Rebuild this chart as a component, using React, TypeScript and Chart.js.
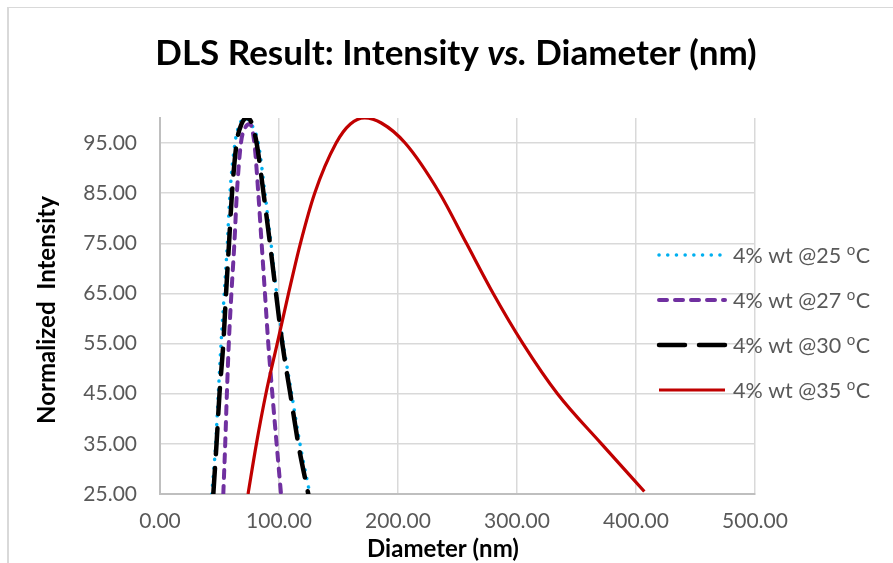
import React, { useEffect, useRef } from 'react';
import { Chart, registerables } from 'chart.js';
Chart.register(...registerables);

const SERIES_LABELS = ['4% wt @25 °C', '4% wt @27 °C', '4% wt @30 °C', '4% wt @35 °C'];
const SERIES_COLORS = ['#00b0f0', '#7030a0', '#000000', '#c00000'];

const D25_X = [43.5, 46.8, 49.0, 51.3, 54.0, 56.6, 58.8, 63.0, 67.0, 71.5, 76.0, 82.6, 88.2, 93.3, 98.0, 103.6, 110.6, 117.6, 126.0];
const D25_Y = [25.0, 35.0, 45.0, 55.0, 65.0, 75.0, 85.0, 95.0, 98.8, 100.0, 99.0, 95.0, 85.0, 75.0, 65.0, 55.0, 45.0, 35.0, 25.0];

const D27_X = [53.2, 54.8, 56.2, 57.8, 60.0, 62.5, 64.6, 68.0, 71.5, 75.5, 79.3, 82.6, 85.4, 88.2, 91.0, 94.4, 98.0, 101.7];
const D27_Y = [25.0, 35.0, 45.0, 55.0, 65.0, 75.0, 85.0, 95.0, 98.0, 98.8, 95.0, 85.0, 75.0, 65.0, 55.0, 45.0, 35.0, 25.0];

const D30_X = [44.8, 47.5, 50.0, 53.2, 55.5, 58.0, 60.5, 64.4, 68.5, 73.0, 77.0, 81.2, 87.0, 92.4, 97.5, 102.8, 109.5, 116.2, 124.6];
const D30_Y = [25.0, 35.0, 45.0, 55.0, 65.0, 75.0, 85.0, 95.0, 98.8, 100.0, 99.0, 95.0, 85.0, 75.0, 65.0, 55.0, 45.0, 35.0, 25.0];

const D35_X = [74.0, 81.0, 89.0, 98.5, 108.0, 118.0, 130.0, 148.0, 160.0, 172.0, 186.0, 206.0, 235.0, 257.5, 280.0, 305.0, 334.0, 371.0, 407.0];
const D35_Y = [25.0, 35.0, 45.0, 55.0, 65.0, 75.0, 85.0, 95.0, 98.8, 100.0, 99.0, 95.0, 85.0, 75.0, 65.0, 55.0, 45.0, 35.0, 25.5];

const X_TICKS = [0, 100, 200, 300, 400, 500];
const Y_TICKS = [25, 35, 45, 55, 65, 75, 85, 95];

const TITLE_PARTS = [
  { text: 'DLS Result: Intensity ', italic: false },
  { text: 'vs.', italic: true },
  { text: ' Diameter (nm)', italic: false },
];
const X_TITLE = 'Diameter (nm)';
const Y_TITLE = 'Normalized  Intensity';

const FONT = 'Lato, "Noto Sans", sans-serif';

const pts = (xs: number[], ys: number[]) => xs.map((x, i) => ({ x, y: ys[i] }));

const decorPlugin = {
  id: 'decor',
  beforeDraw(chart: any) {
    const ctx = chart.ctx;
    ctx.save();
    ctx.fillStyle = '#ffffff';
    ctx.fillRect(0, 0, chart.width, chart.height);
    ctx.fillStyle = '#d9d9d9';
    ctx.fillRect(7, 7, chart.width - 7, 1);
    ctx.fillRect(7, 7, 2, chart.height - 7);
    ctx.restore();
  },
  afterDraw(chart: any) {
    const ctx = chart.ctx;
    ctx.save();
    // main title
    const tSize = 35;
    ctx.fillStyle = '#000000';
    ctx.textBaseline = 'alphabetic';
    ctx.textAlign = 'left';
    const fonts = TITLE_PARTS.map((p) => `${p.italic ? 'italic ' : ''}bold ${tSize}px ${FONT}`);
    let total = 0;
    const widths = TITLE_PARTS.map((p, i) => {
      ctx.font = fonts[i];
      const w = ctx.measureText(p.text).width;
      total += w;
      return w;
    });
    let x = 456 - total / 2;
    TITLE_PARTS.forEach((p, i) => {
      ctx.font = fonts[i];
      ctx.fillText(p.text, x, 65);
      x += widths[i];
    });

    // axis titles
    ctx.font = `bold 24px ${FONT}`;
    ctx.textAlign = 'center';
    ctx.textBaseline = 'middle';
    ctx.fillText(X_TITLE, 443, 549);
    ctx.save();
    ctx.translate(47, 310);
    ctx.rotate(-Math.PI / 2);
    ctx.fillText(Y_TITLE, 0, 0);
    ctx.restore();

    // legend
    chart.data.datasets.forEach((ds: any, i: number) => {
      const y = 255 + i * 45;
      ctx.beginPath();
      ctx.strokeStyle = ds.borderColor;
      ctx.lineWidth = ds.borderWidth;
      ctx.lineCap = ds.borderCapStyle || 'butt';
      ctx.setLineDash(ds.borderDash || []);
      ctx.moveTo(659, y);
      ctx.lineTo(725, y);
      ctx.stroke();
      ctx.setLineDash([]);
      const label: string = ds.label;
      const k = label.indexOf('°');
      const pre = k >= 0 ? label.slice(0, k) : label;
      const post = k >= 0 ? label.slice(k + 1) : '';
      ctx.fillStyle = '#595959';
      ctx.textAlign = 'left';
      ctx.textBaseline = 'middle';
      ctx.font = `21.5px ${FONT}`;
      let tx = 733;
      ctx.fillText(pre, tx, y + 1);
      tx += ctx.measureText(pre).width;
      if (k >= 0) {
        ctx.font = `15px ${FONT}`;
        ctx.fillText('o', tx, y - 5);
        tx += ctx.measureText('o').width + 0.5;
        ctx.font = `21.5px ${FONT}`;
        ctx.fillText(post, tx, y + 1);
      }
    });
    ctx.restore();
  },
};

export default function App() {
  const ref = useRef<HTMLCanvasElement | null>(null);
  useEffect(() => {
    if (!ref.current) return;
    const lw = [3.5, 4, 4.5, 3.2];
    const dashes = [[0.1, 8.6], [8, 8], [26, 14], []];
    const caps = ['round', 'round', 'round', 'butt'];
    const raw = [pts(D25_X, D25_Y), pts(D27_X, D27_Y), pts(D30_X, D30_Y), pts(D35_X, D35_Y)];
    const chart = new Chart(ref.current, {
      type: 'line',
      data: {
        datasets: raw.map((d, i) => ({
          label: SERIES_LABELS[i],
          data: d,
          borderColor: SERIES_COLORS[i],
          backgroundColor: SERIES_COLORS[i],
          borderWidth: lw[i],
          borderDash: dashes[i],
          borderCapStyle: caps[i] as any,
          pointRadius: 0,
          fill: false,
          cubicInterpolationMode: 'monotone' as const,
          order: 4 - i,
        })),
      },
      options: {
        responsive: false,
        animation: false,
        devicePixelRatio: 1,
        layout: { padding: { left: 0, right: 893 - 755, top: 118, bottom: 0 } },
        plugins: {
          legend: { display: false },
          title: { display: false },
          tooltip: { enabled: false },
        },
        scales: {
          x: {
            type: 'linear',
            min: 0,
            max: 500,
            afterBuildTicks: (s: any) => { s.ticks = X_TICKS.map((v) => ({ value: v })); },
            afterFit: (s: any) => { s.height = 69; },
            ticks: {
              color: '#595959',
              font: { family: FONT, size: 21 },
              padding: 15,
              maxRotation: 0,
              callback: (v: any) => Number(v).toFixed(2),
            },
            grid: { color: '#d9d9d9', lineWidth: 1.5, drawTicks: false },
            border: { color: '#bfbfbf', width: 2 },
          },
          y: {
            type: 'linear',
            min: 25,
            max: 100,
            afterBuildTicks: (s: any) => { s.ticks = Y_TICKS.map((v) => ({ value: v })); },
            afterFit: (s: any) => { s.width = 160; },
            ticks: {
              color: '#595959',
              font: { family: FONT, size: 21 },
              padding: 23,
              callback: (v: any) => Number(v).toFixed(2),
            },
            grid: { color: '#d9d9d9', lineWidth: 1.5, drawTicks: false },
            border: { color: '#bfbfbf', width: 2 },
          },
        },
      },
      plugins: [decorPlugin],
    });
    return () => chart.destroy();
  }, []);
  return (
    <div style={{ position: 'fixed', left: 0, top: 0, width: 893, height: 563, background: '#fff' }}>
      <canvas ref={ref} width={893} height={563} style={{ display: 'block' }} />
    </div>
  );
}
